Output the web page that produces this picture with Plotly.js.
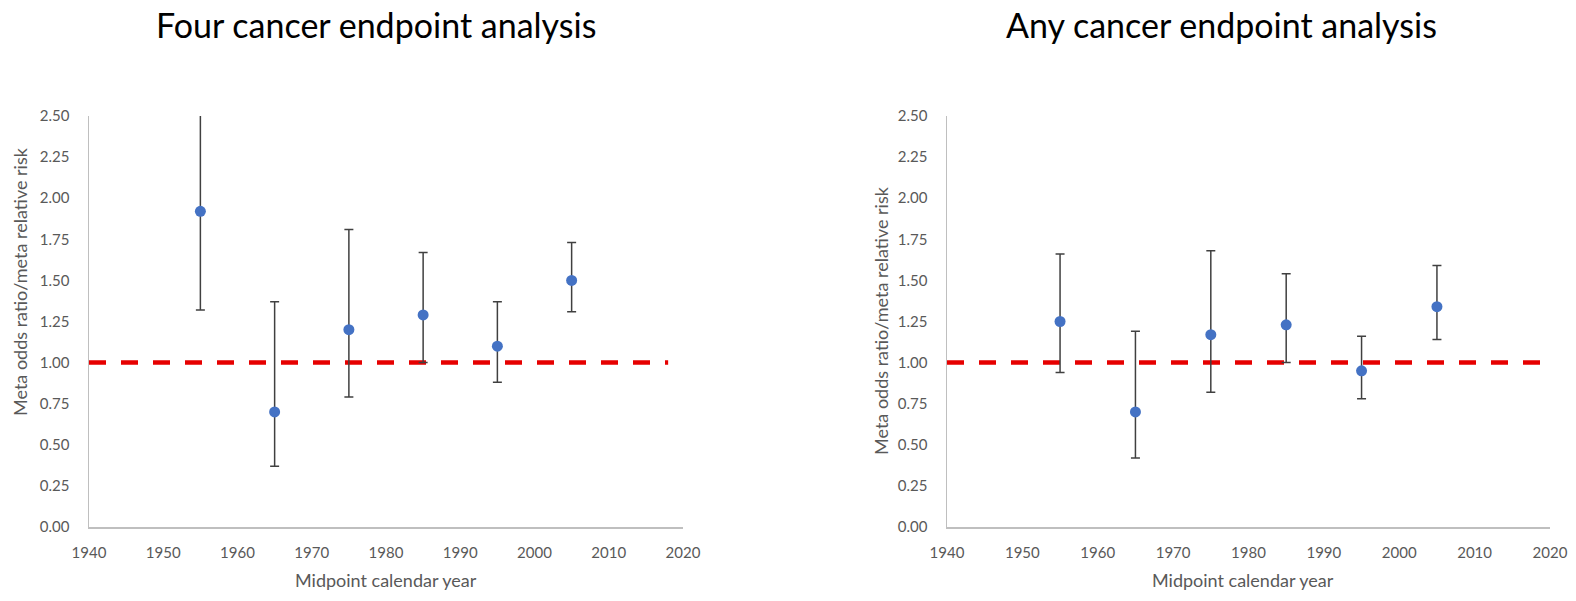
<!DOCTYPE html>
<html>
<head>
<meta charset="utf-8">
<script src="https://cdn.plot.ly/plotly-3.0.1.min.js"></script>
<style>
html,body{margin:0;padding:0;background:#fff;}
#chart{width:1576px;height:601px;}
</style>
</head>
<body>
<div id="chart"></div>
<script>
// ---- data ----
const years = [1955, 1965, 1975, 1985, 1995, 2005];

const fourEstimate = [1.92, 0.70, 1.20, 1.29, 1.10, 1.50];
const fourUpper    = [2.60, 1.37, 1.81, 1.67, 1.37, 1.73];
const fourLower    = [1.32, 0.37, 0.79, 1.00, 0.88, 1.31];

const anyEstimate  = [1.25, 0.70, 1.17, 1.23, 0.95, 1.34];
const anyUpper     = [1.66, 1.19, 1.68, 1.54, 1.16, 1.59];
const anyLower     = [0.94, 0.42, 0.82, 1.00, 0.78, 1.14];

const refLeftX  = [1940, 2018];
const refRightX = [1940, 2020];
const refY      = [1, 1];

const titles = ["Four cancer endpoint analysis", "Any cancer endpoint analysis"];
const yTitle = "Meta odds ratio/meta relative risk";
const xTitle = "Midpoint calendar year";

// ---- build ----
const FONT = "Lato, 'Open Sans', sans-serif";
const GRAY = "#595959";

function diff(a, b) { return a.map((v, i) => +(v - b[i]).toFixed(4)); }

function refTrace(x, xa, ya) {
  return {
    x: x, y: refY, xaxis: xa, yaxis: ya, type: "scatter", mode: "lines",
    line: {color: "#e60000", width: 4.5, dash: "17px,15px"},
    hoverinfo: "skip", showlegend: false
  };
}
function pointTrace(est, up, lo, xa, ya) {
  return {
    x: years, y: est, xaxis: xa, yaxis: ya, type: "scatter", mode: "markers",
    marker: {color: "#4472C4", size: 11, symbol: "circle"},
    error_y: {type: "data", symmetric: false, array: diff(up, est), arrayminus: diff(est, lo),
              color: "#404040", thickness: 1.5, width: 4.5},
    showlegend: false
  };
}

const data = [
  refTrace(refLeftX, "x", "y"),
  pointTrace(fourEstimate, fourUpper, fourLower, "x", "y"),
  refTrace(refRightX, "x2", "y2"),
  pointTrace(anyEstimate, anyUpper, anyLower, "x2", "y2")
];

function xAxis(domain, anchor) {
  return {
    domain: domain, anchor: anchor, range: [1940, 2020], dtick: 10, tick0: 1940,
    showgrid: false, zeroline: false, showline: true, linecolor: "#bfbfbf", linewidth: 1.5,
    ticks: "", ticklabelstandoff: 11, tickfont: {family: FONT, size: 15, color: GRAY},
    fixedrange: true
  };
}
function yAxis(domain, anchor) {
  return {
    domain: domain, anchor: anchor, range: [0, 2.5], dtick: 0.25, tick0: 0, tickformat: ".2f",
    showgrid: false, zeroline: false, showline: true, linecolor: "#bfbfbf", linewidth: 1.5,
    ticks: "", ticklabelstandoff: 15, tickfont: {family: FONT, size: 15, color: GRAY},
    fixedrange: true
  };
}

const W = 1576, H = 601;
const yDom = [1 - 527 / H, 1 - 116 / H];

const layout = {
  width: W, height: H,
  margin: {l: 0, r: 0, t: 0, b: 0},
  paper_bgcolor: "#fff", plot_bgcolor: "#fff",
  showlegend: false,
  xaxis: xAxis([89 / W, 683 / W], "y"),
  yaxis: yAxis(yDom, "x"),
  xaxis2: xAxis([947 / W, 1550 / W], "y2"),
  yaxis2: yAxis(yDom, "x2"),
  annotations: [
    {text: titles[0], xref: "paper", yref: "paper", x: 376 / W, y: 1 - 25 / H,
     xanchor: "center", yanchor: "middle", showarrow: false,
     font: {family: FONT, size: 34, color: "#000"}},
    {text: titles[1], xref: "paper", yref: "paper", x: 1221 / W, y: 1 - 25 / H,
     xanchor: "center", yanchor: "middle", showarrow: false,
     font: {family: FONT, size: 34, color: "#000"}},
    {text: yTitle, xref: "paper", yref: "paper", x: 20 / W, y: 1 - 282 / H, textangle: -90,
     xanchor: "center", yanchor: "middle", showarrow: false,
     font: {family: FONT, size: 18, color: GRAY}},
    {text: yTitle, xref: "paper", yref: "paper", x: 881 / W, y: 1 - 321 / H, textangle: -90,
     xanchor: "center", yanchor: "middle", showarrow: false,
     font: {family: FONT, size: 18, color: GRAY}},
    {text: xTitle, xref: "paper", yref: "paper", x: 386 / W, y: 1 - 580 / H,
     xanchor: "center", yanchor: "middle", showarrow: false,
     font: {family: FONT, size: 18, color: GRAY}},
    {text: xTitle, xref: "paper", yref: "paper", x: 1243 / W, y: 1 - 580 / H,
     xanchor: "center", yanchor: "middle", showarrow: false,
     font: {family: FONT, size: 18, color: GRAY}}
  ]
};

Plotly.newPlot("chart", data, layout, {displayModeBar: false, staticPlot: true});
</script>
</body>
</html>
